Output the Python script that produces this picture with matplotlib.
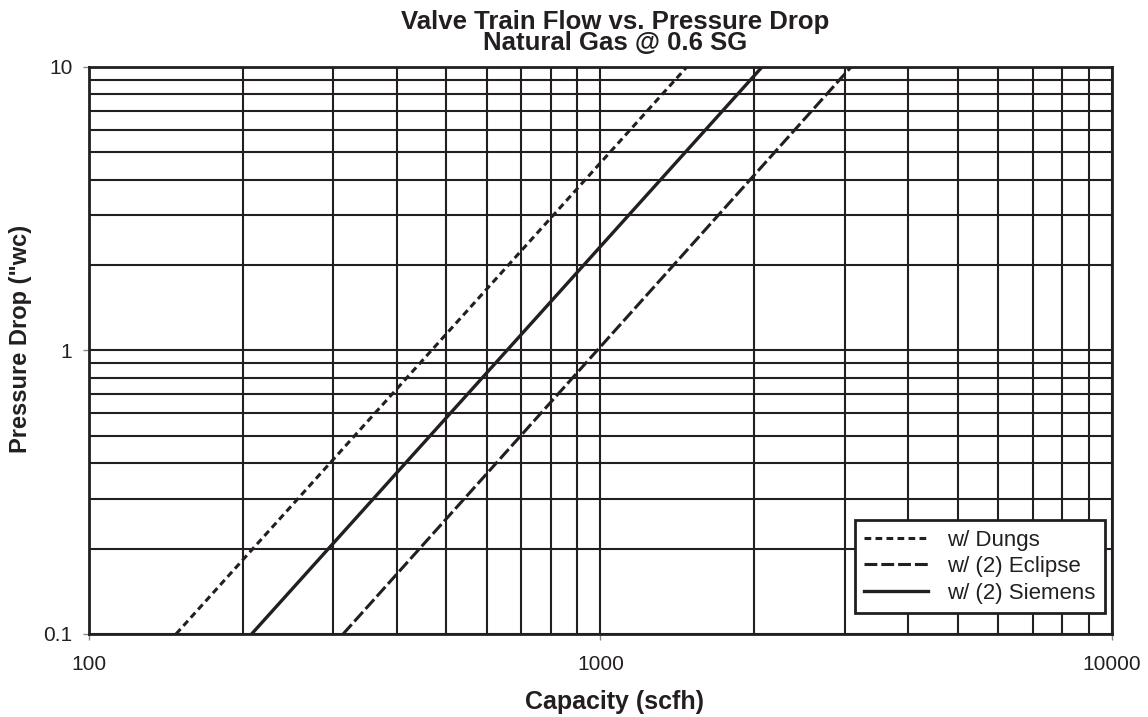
import matplotlib.pyplot as plt
from matplotlib.ticker import FixedLocator, NullFormatter, FixedFormatter

plt.rcParams['font.family'] = ['Liberation Sans', 'DejaVu Sans']

# flow (scfh) at 0.1 and 10 "wc for each valve train
pressure = [0.1, 10]
dungs_flow = [148, 1475]
eclipse_flow = [314, 3090]
siemens_flow = [208, 2070]

x_major = [100, 1000, 10000]
x_major_labels = ['100', '1000', '10000']
y_major = [0.1, 1, 10]
y_major_labels = ['0.1', '1', '10']

ink = '#231f20'

fig = plt.figure(figsize=(11.48, 7.17), dpi=100)
ax = fig.add_axes([0.0775, 0.1158, 0.8911, 0.7908])

ax.set_xscale('log')
ax.set_yscale('log')
ax.set_xlim(100, 10000)
ax.set_ylim(0.1, 10)

ax.plot(dungs_flow, pressure, color=ink, linewidth=2.2, linestyle=(0, (2.2, 1.4)), label='w/ Dungs')
ax.plot(eclipse_flow, pressure, color=ink, linewidth=2.2, linestyle=(0, (4.2, 1.3)), label='w/ (2) Eclipse')
ax.plot(siemens_flow, pressure, color=ink, linewidth=2.4, label='w/ (2) Siemens')

# grid lines on every major and minor decade step
x_minor = [m * 10 ** d for d in (2, 3) for m in range(2, 10)]
y_minor = [m * 10 ** d for d in (-1, 0) for m in range(2, 10)]
ax.xaxis.set_major_locator(FixedLocator(x_major))
ax.xaxis.set_major_formatter(FixedFormatter(x_major_labels))
ax.xaxis.set_minor_locator(FixedLocator(x_minor))
ax.xaxis.set_minor_formatter(NullFormatter())
ax.yaxis.set_major_locator(FixedLocator(y_major))
ax.yaxis.set_major_formatter(FixedFormatter(y_major_labels))
ax.yaxis.set_minor_locator(FixedLocator(y_minor))
ax.yaxis.set_minor_formatter(NullFormatter())
ax.grid(True, which='both', color=ink, linewidth=1.5)
ax.set_axisbelow(True)

ax.tick_params(which='major', length=4, width=1, color='#888888', labelsize=15, labelcolor=ink)
ax.tick_params(axis='x', which='major', pad=11)
ax.tick_params(axis='y', which='major', pad=8)
ax.tick_params(which='minor', length=0)
for s in ax.spines.values():
    s.set_color(ink)
    s.set_linewidth(2)

ax.set_title('Valve Train Flow vs. Pressure Drop\nNatural Gas @ 0.6 SG', fontsize=18.5, fontweight='bold',
             color=ink, linespacing=0.85, pad=12, x=0.514)
ax.set_xlabel('Capacity (scfh)', fontsize=18, fontweight='bold', color=ink, labelpad=12, x=0.514)
ax.set_ylabel('Pressure Drop ("wc)', fontsize=17, fontweight='bold', color=ink, labelpad=8, y=0.52)

leg = ax.legend(loc='lower right', bbox_to_anchor=(0.9932, 0.037), borderaxespad=0, fontsize=16,
                frameon=True, fancybox=False, framealpha=1, edgecolor=ink, handlelength=2.9,
                labelspacing=0.25, borderpad=0.42, handletextpad=0.85)
leg.get_frame().set_linewidth(2)
for t in leg.get_texts():
    t.set_color(ink)

fig.savefig('out.png', dpi=100)
